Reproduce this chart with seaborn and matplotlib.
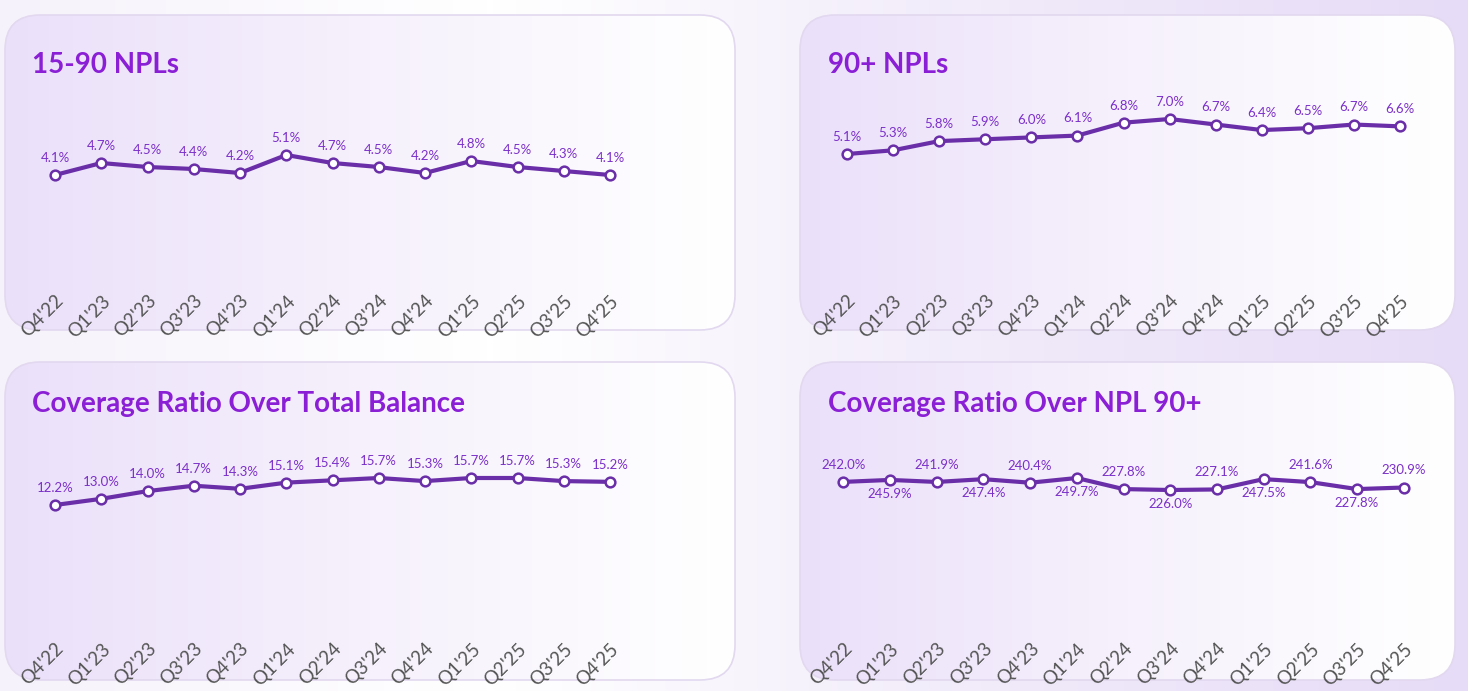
import numpy as np
import matplotlib
matplotlib.use("Agg")
import matplotlib.pyplot as plt
from matplotlib.patches import FancyBboxPatch
import seaborn as sns
import pandas as pd

sns.set_theme(style="white")
plt.rcParams['font.family'] = ['Lato', 'DejaVu Sans']

quarters = ["Q4'22", "Q1'23", "Q2'23", "Q3'23", "Q4'23", "Q1'24", "Q2'24",
            "Q3'24", "Q4'24", "Q1'25", "Q2'25", "Q3'25", "Q4'25"]
npl_15_90 = [4.1, 4.7, 4.5, 4.4, 4.2, 5.1, 4.7, 4.5, 4.2, 4.8, 4.5, 4.3, 4.1]
npl_90 = [5.1, 5.3, 5.8, 5.9, 6.0, 6.1, 6.8, 7.0, 6.7, 6.4, 6.5, 6.7, 6.6]
cov_total = [12.2, 13.0, 14.0, 14.7, 14.3, 15.1, 15.4, 15.7, 15.3, 15.7, 15.7, 15.3, 15.2]
cov_npl90 = [242.0, 245.9, 241.9, 247.4, 240.4, 249.7, 227.8, 226.0, 227.1, 247.5, 241.6, 227.8, 230.9]

W, H = 1468, 691
fig = plt.figure(figsize=(W / 100, H / 100), dpi=100)

# 背景渐变
bg = fig.add_axes([0, 0, 1, 1])
grad = np.linspace(0, 1, 256)[None, :]
bg.imshow(grad, extent=[0, W, 0, H], aspect='auto', cmap=matplotlib.colors.LinearSegmentedColormap.from_list(
    'bg', ['#f6f2fb', '#ffffff', '#f1ebfa', '#e7dcf7']))
bg.set_xlim(0, W); bg.set_ylim(H, 0); bg.axis('off')

panel_cmap = matplotlib.colors.LinearSegmentedColormap.from_list('p', ['#ebe0fa', '#f6f1fc', '#ffffff'])
panels = [(5, 15, 730, 315), (800, 15, 655, 315), (5, 362, 730, 318), (800, 362, 655, 318)]
for (x, y, w, h) in panels:
    patch = FancyBboxPatch((x, y), w, h, boxstyle="round,pad=0,rounding_size=35",
                           fc='none', ec='#e2d8ef', lw=1.2)
    bg.add_patch(patch)
    im = bg.imshow(grad, extent=[x, x + w, y + h, y], aspect='auto', cmap=panel_cmap, zorder=0)
    im.set_clip_path(patch)
bg.set_xlim(0, W); bg.set_ylim(H, 0)

def px_axes(x0, x1, ytop, ybot):
    return fig.add_axes([x0 / W, 1 - ybot / H, (x1 - x0) / W, (ybot - ytop) / H])

def draw(title, tx, ty, vals, fmt, x0, x1, ytop, ybot, vlo, vhi, plo, phi, alt=False):
    fig.text(tx / W, 1 - ty / H, title, color='#8a1fd6', fontsize=20, fontweight='bold', va='center')
    ax = px_axes(x0, x1, ytop, ybot)
    ax.patch.set_alpha(0)
    # vlo 对应像素 plo, vhi 对应像素 phi
    scale = (vhi - vlo) / (plo - phi)
    ax.set_ylim(vlo - (ybot - plo) * scale, vhi + (phi - ytop) * scale)
    df = pd.DataFrame({'q': quarters, 'v': vals})
    sns.lineplot(data=df, x='q', y='v', ax=ax, color='#6a2fa8', lw=3, marker='o',
                 markersize=7, markerfacecolor='white', markeredgecolor='#6a2fa8',
                 markeredgewidth=1.8, sort=False)
    for i, v in enumerate(vals):
        below = alt and i % 2 == 1
        ax.annotate(fmt.format(v), (i, v), xytext=(0, -6 if below else 8),
                    textcoords='offset points', ha='center',
                    va='top' if below else 'bottom', fontsize=9.5, color='#7b2fc9')
    ax.set_xlim(-0.5, len(vals) - 0.5)
    ax.set_xlabel(''); ax.set_ylabel(''); ax.set_yticks([])
    ax.set_xticks(range(len(quarters)))
    ax.set_xticklabels(quarters, rotation=45, ha='right', rotation_mode='anchor',
                       fontsize=13.5, color='#555555')
    ax.tick_params(axis='x', length=0, pad=0)
    for s in ax.spines.values():
        s.set_visible(False)

step = (610 - 55) / 12
draw('15-90 NPLs', 32, 65, npl_15_90, '{:.1f}%', 55 - step / 2, 610 + step / 2, 100, 292,
     4.1, 5.1, 175, 155)
step2 = (1400 - 847) / 12
draw('90+ NPLs', 828, 65, npl_90, '{:.1f}%', 847 - step2 / 2, 1400 + step2 / 2, 100, 292,
     5.1, 7.0, 154, 119)
draw('Coverage Ratio Over Total Balance', 32, 404, cov_total, '{:.1f}%', 55 - step / 2, 610 + step / 2,
     440, 640, 12.2, 15.7, 505, 478)
draw('Coverage Ratio Over NPL 90+', 828, 404, cov_npl90, '{:.1f}%', 843 - step2 / 2, 1404 + step2 / 2,
     440, 640, 226.0, 249.7, 490, 478, alt=True)

fig.savefig('out.png', dpi=100)
